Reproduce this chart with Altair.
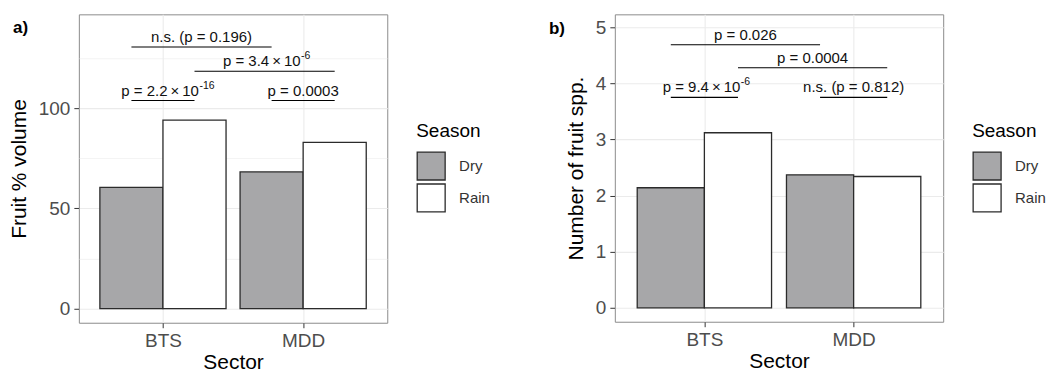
import json
import altair as alt
import pandas as pd

# ---- data ----
sectors = ["BTS", "MDD"]
seasons = ["Dry", "Rain"]

fruit_volume_dry = [60.5, 68.2]
fruit_volume_rain = [94.0, 82.9]

fruit_spp_dry = [2.14, 2.37]
fruit_spp_rain = [3.12, 2.34]

# comparisons: (sector 1, season 1, sector 2, season 2)
cmp_pairs = [
    ("BTS", "Dry", "BTS", "Rain"),
    ("MDD", "Dry", "MDD", "Rain"),
    ("BTS", "Rain", "MDD", "Rain"),
    ("BTS", "Dry", "MDD", "Dry"),
]
TS = "\u2009"
cmp_a_main = [f"p = 2.2{TS}×{TS}10", "p = 0.0003", f"p = 3.4{TS}×{TS}10", "n.s. (p = 0.196)"]
cmp_a_sup = ["-16", "", "-6", ""]
cmp_a_heights = [103.8, 103.8, 118.4, 130.5]
cmp_b_main = [f"p = 9.4{TS}×{TS}10", "n.s. (p = 0.812)", "p = 0.0004", "p = 0.026"]
cmp_b_sup = ["-6", "", "", ""]
cmp_b_heights = [3.75, 3.75, 4.28, 4.69]

FONT = "Liberation Sans"
SECT = json.dumps(sectors)
DODGE = 0.225


def pos_expr(sec, sea):
    return f"indexof({SECT}, datum.{sec}) + 1 + (datum.{sea} == 'Dry' ? -{DODGE} : {DODGE})"


def panel(dry, rain, mains, sups, heights, ydomain, yvalues, major_mod, ytitle,
          width, height, tag, tagx, tagy, legx, legy):
    bars = pd.DataFrame({
        "Sector": [s for s in sectors for _ in seasons],
        "Season": [se for _ in sectors for se in seasons],
        "value": [v for pair in zip(dry, rain) for v in pair],
    })
    cmp = pd.DataFrame({
        "s1": [p[0] for p in cmp_pairs], "n1": [p[1] for p in cmp_pairs],
        "s2": [p[2] for p in cmp_pairs], "n2": [p[3] for p in cmp_pairs],
        "y": heights, "main": mains, "sup": sups,
    })

    label_expr = " : ".join(
        [f"datum.value == {i + 1} ? '{s}'" for i, s in enumerate(sectors)] + ["''"])
    xscale = alt.Scale(domain=[0.4, 2.6], nice=False, zero=False)
    xaxis = alt.Axis(values=[1, 2], labelExpr=label_expr, title="Sector",
                     grid=True, gridColor="#EBEBEB", gridWidth=1.1,
                     domain=False, tickSize=5, tickColor="#333333",
                     labelFontSize=19, labelColor="#4D4D4D", labelPadding=4,
                     titleFontSize=21, titleFontWeight="normal", titleColor="#000000",
                     titlePadding=1, labelFont=FONT, titleFont=FONT)
    yscale = alt.Scale(domain=ydomain, nice=False, zero=False)
    cond = f"datum.value % {major_mod} == 0"
    yaxis = alt.Axis(values=yvalues, title=ytitle,
                     labelExpr=f"{cond} ? format(datum.value, 'd') : ''",
                     grid=True, gridColor="#EBEBEB",
                     gridWidth={"expr": f"{cond} ? 1.1 : 0.6"},
                     tickOpacity={"expr": f"{cond} ? 1 : 0"},
                     domain=False, tickSize=5, tickColor="#333333",
                     labelFontSize=19, labelColor="#4D4D4D", labelPadding=4,
                     titleFontSize=21, titleFontWeight="normal", titleColor="#000000",
                     titlePadding=9, labelFont=FONT, titleFont=FONT)

    color = alt.Color("Season:N",
                      scale=alt.Scale(domain=seasons, range=["#A7A7A9", "#FFFFFF"]),
                      legend=alt.Legend(orient="none", legendX=legx, legendY=legy,
                                        title="Season", titleFontSize=19,
                                        titleFontWeight="normal", titleColor="#000000",
                                        titleFont=FONT, titlePadding=10,
                                        labelFontSize=15, labelColor="#333333",
                                        labelFont=FONT, labelOffset=13,
                                        symbolType="square", symbolSize=784,
                                        symbolStrokeColor="#2B2B2B",
                                        symbolStrokeWidth=1.3, rowPadding=-3))

    bar_layer = alt.Chart(bars).transform_calculate(
        pos=pos_expr("Sector", "Season")
    ).transform_calculate(
        x1=f"datum.pos - {DODGE}", x2=f"datum.pos + {DODGE}"
    ).mark_rect(stroke="#2B2B2B", strokeWidth=1.3).encode(
        x=alt.X("x1:Q", scale=xscale, axis=xaxis),
        x2="x2:Q",
        y=alt.Y("value:Q", scale=yscale, axis=yaxis),
        y2=alt.datum(0),
        fill=color,
    )

    base_cmp = alt.Chart(cmp).transform_calculate(
        p1=pos_expr("s1", "n1"), p2=pos_expr("s2", "n2")
    ).transform_calculate(mid="(datum.p1 + datum.p2) / 2")

    rules = base_cmp.mark_rule(color="#000000", strokeWidth=1.1).encode(
        x="p1:Q", x2="p2:Q", y="y:Q")
    plain = base_cmp.transform_filter("datum.sup == ''").mark_text(
        fontSize=15, font=FONT, color="#111111",
        align="center", baseline="alphabetic", dy=-5).encode(
        x="mid:Q", y="y:Q", text="main:N")
    with_sup = base_cmp.transform_filter("datum.sup != ''")
    main_txt = with_sup.mark_text(
        fontSize=15, font=FONT, color="#111111",
        align="right", baseline="alphabetic", dx=36, dy=-5).encode(
        x="mid:Q", y="y:Q", text="main:N")
    sup_txt = with_sup.mark_text(
        fontSize=10.5, font=FONT, color="#111111",
        align="left", baseline="alphabetic", dx=36.5, dy=-12).encode(
        x="mid:Q", y="y:Q", text="sup:N")

    tag_layer = alt.Chart(pd.DataFrame({"t": [tag]})).mark_text(
        fontSize=17, fontWeight="bold", font=FONT, color="#000000",
        align="left", baseline="alphabetic").encode(
        x=alt.value(tagx), y=alt.value(tagy), text="t:N")

    return alt.layer(bar_layer, rules, plain, main_txt, sup_txt, tag_layer).properties(
        width=width, height=height)


pa = panel(fruit_volume_dry, fruit_volume_rain, cmp_a_main, cmp_a_sup, cmp_a_heights,
           [-6.99, 146.8], [0, 25, 50, 75, 100, 125], 50, "Fruit % volume",
           309, 309, "a)", -66, 18.7, 338, 108)
pb = panel(fruit_spp_dry, fruit_spp_rain, cmp_b_main, cmp_b_sup, cmp_b_heights,
           [-0.249, 5.231], [0, 0.5, 1, 1.5, 2, 2.5, 3, 3.5, 4, 4.5, 5], 1,
           "Number of fruit spp.", 329, 308, "b)", -66, 19.5, 358, 108)

chart = alt.hconcat(pa, pb, spacing=57).resolve_scale(
    x="independent", y="independent", fill="independent"
).properties(
    padding={"left": 7, "top": 13, "right": 0, "bottom": 0},
    background="#FFFFFF",
).configure_view(
    stroke="#8C8C8C", strokeWidth=1
)

chart.save("out.html", embed_options={"renderer": "svg", "actions": False})
